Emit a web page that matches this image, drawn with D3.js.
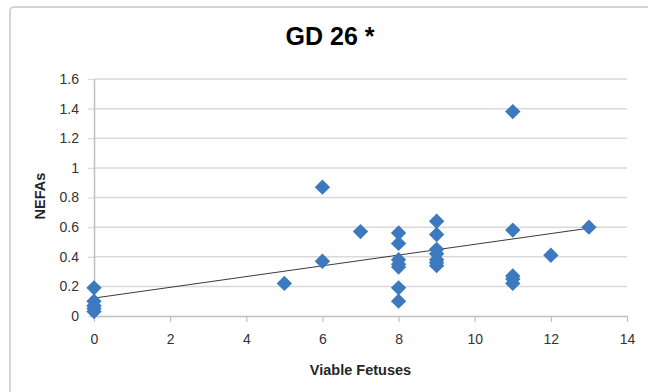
<!DOCTYPE html>
<html>
<head>
<meta charset="utf-8">
<script src="https://cdn.jsdelivr.net/npm/d3@7"></script>
<style>
  body { margin: 0; background: #fff; }
  svg { display: block; font-family: "Liberation Sans", Arial, sans-serif; }
</style>
</head>
<body>
<div id="chart"></div>
<script>
// Viable fetuses (x) and NEFAs (y)
var fetuses = [0, 0, 0, 0, 0, 5, 6, 6, 7,
               8, 8, 8, 8, 8, 8, 8,
               9, 9, 9, 9, 9, 9, 9,
               11, 11, 11, 11, 11, 12, 13];
var nefas = [0.19, 0.10, 0.07, 0.05, 0.03, 0.22, 0.87, 0.37, 0.57,
             0.56, 0.49, 0.38, 0.35, 0.33, 0.19, 0.10,
             0.64, 0.55, 0.45, 0.42, 0.38, 0.36, 0.34,
             1.38, 0.58, 0.27, 0.25, 0.22, 0.41, 0.60];
var xTicks = [0, 2, 4, 6, 8, 10, 12, 14];
var yTicks = [0, 0.2, 0.4, 0.6, 0.8, 1, 1.2, 1.4, 1.6];

var svgWidth = 648;
var svgHeight = 392;

var margin = { top: 79, right: 21, bottom: 76, left: 94 };
var chartWidth = svgWidth - margin.left - margin.right;
var chartHeight = svgHeight - margin.top - margin.bottom;

var svg = d3.select("#chart")
  .append("svg")
  .attr("width", svgWidth)
  .attr("height", svgHeight);

// chart frame
svg.append("rect")
  .attr("x", 10)
  .attr("y", 7)
  .attr("width", 700)
  .attr("height", 500)
  .attr("rx", 4)
  .attr("fill", "#fff")
  .attr("stroke", "#d4d4d4")
  .attr("stroke-width", 2);

var chartGroup = svg.append("g")
  .attr("transform", `translate(${margin.left}, ${margin.top})`);

var xScale = d3.scaleLinear().domain([0, 14]).range([0, chartWidth]);
var yScale = d3.scaleLinear().domain([0, 1.6]).range([chartHeight, 0]);

// gridlines
chartGroup.selectAll("line.grid")
  .data(yTicks.filter(d => d > 0))
  .enter()
  .append("line")
  .attr("class", "grid")
  .attr("x1", 0)
  .attr("x2", chartWidth)
  .attr("y1", d => yScale(d))
  .attr("y2", d => yScale(d))
  .attr("stroke", "#d9d9d9")
  .attr("stroke-width", 1.5);

// axes
var bottomAxis = d3.axisBottom(xScale).tickValues(xTicks).tickSizeOuter(0).tickSizeInner(6).tickPadding(12);
var leftAxis = d3.axisLeft(yScale).tickValues(yTicks).tickSizeOuter(0).tickSizeInner(6).tickPadding(9)
  .tickFormat(d3.format("~g"));

var xAxis = chartGroup.append("g")
  .attr("transform", `translate(0, ${chartHeight})`)
  .call(bottomAxis);

var yAxis = chartGroup.append("g")
  .call(leftAxis);

[xAxis, yAxis].forEach(function(ax) {
  ax.select(".domain").attr("stroke", "#bfbfbf").attr("stroke-width", 1.5);
  ax.selectAll(".tick line").attr("stroke", "#bfbfbf").attr("stroke-width", 1.2);
  ax.selectAll(".tick text")
    .attr("fill", "#333")
    .style("font-size", "14px")
    .style("font-family", "'Liberation Sans', Arial, sans-serif");
});
yAxis.selectAll(".tick line").attr("stroke", "#d9d9d9");

// linear trend line (least squares)
var mx = d3.mean(fetuses);
var my = d3.mean(nefas);
var sxy = d3.sum(fetuses, (x, i) => (x - mx) * (nefas[i] - my));
var sxx = d3.sum(fetuses, x => (x - mx) * (x - mx));
var slope = sxy / sxx;
var intercept = my - slope * mx;
var xExtent = d3.extent(fetuses);

chartGroup.append("line")
  .attr("x1", xScale(xExtent[0]))
  .attr("y1", yScale(intercept + slope * xExtent[0]))
  .attr("x2", xScale(xExtent[1]))
  .attr("y2", yScale(intercept + slope * xExtent[1]))
  .attr("stroke", "#3a3a3a")
  .attr("stroke-width", 1);

// diamond markers
var diamond = d3.symbol().type(d3.symbolSquare).size(118);
chartGroup.selectAll("path.pt")
  .data(fetuses)
  .enter()
  .append("path")
  .attr("class", "pt")
  .attr("d", diamond)
  .attr("transform", (d, i) => `translate(${xScale(d)}, ${yScale(nefas[i])}) rotate(45)`)
  .attr("fill", "#3c79bf");

// title
svg.append("text")
  .attr("x", 330)
  .attr("y", 45)
  .attr("text-anchor", "middle")
  .style("font-size", "25px")
  .style("font-weight", "bold")
  .attr("fill", "#000")
  .text("GD 26 *");

// axis titles
svg.append("text")
  .attr("x", margin.left + chartWidth / 2)
  .attr("y", 375)
  .attr("text-anchor", "middle")
  .style("font-size", "14.5px")
  .style("font-weight", "bold")
  .attr("fill", "#262626")
  .text("Viable Fetuses");

svg.append("text")
  .attr("transform", "rotate(-90)")
  .attr("x", -196)
  .attr("y", 45)
  .attr("text-anchor", "middle")
  .style("font-size", "14.5px")
  .style("font-weight", "bold")
  .attr("fill", "#262626")
  .text("NEFAs");
</script>
</body>
</html>
